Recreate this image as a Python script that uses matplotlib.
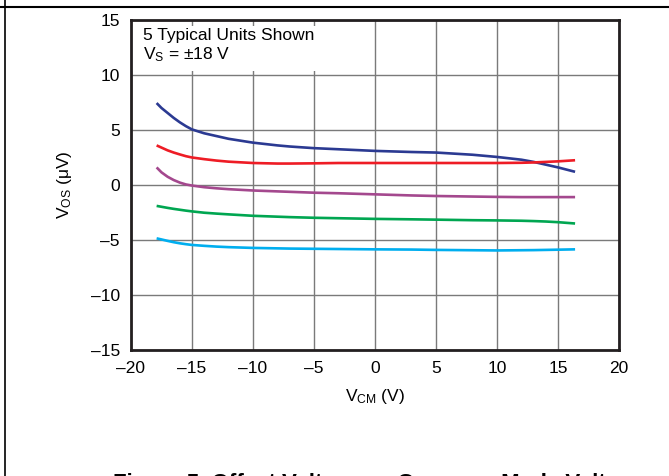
import numpy as np
import matplotlib
matplotlib.use('Agg')
import matplotlib.pyplot as plt
from matplotlib.lines import Line2D
from matplotlib.patches import Rectangle

plt.rcParams['font.family'] = ['Liberation Sans', 'DejaVu Sans']
plt.rcParams['mathtext.default'] = 'regular'

# curve data (V_CM in V, V_OS in uV)
vcm = [-17.9, -17.5, -17, -16.5, -16, -15.5, -15, -14, -13, -12, -10, -8, -7, -5, -3,
       0, 3, 5, 8, 10, 12, 13, 14, 15, 16.4]
blue = [7.45, 7.0, 6.55, 6.1, 5.7, 5.35, 5.05, 4.7, 4.45, 4.2, 3.85, 3.6, 3.5, 3.35, 3.25,
        3.1, 3.0, 2.95, 2.75, 2.55, 2.3, 2.1, 1.85, 1.6, 1.2]
red = [3.6, 3.4, 3.15, 2.95, 2.78, 2.62, 2.5, 2.35, 2.22, 2.12, 2.0, 1.95, 1.95, 1.97, 2.0,
       2.0, 2.0, 2.0, 2.0, 2.0, 2.02, 2.05, 2.1, 2.15, 2.25]
purple = [1.6, 1.15, 0.75, 0.45, 0.22, 0.05, -0.05, -0.2, -0.3, -0.38, -0.5, -0.58, -0.62, -0.7, -0.75,
          -0.85, -0.95, -1.0, -1.05, -1.08, -1.1, -1.1, -1.1, -1.1, -1.1]
green = [-1.9, -1.98, -2.08, -2.17, -2.25, -2.33, -2.4, -2.52, -2.6, -2.67, -2.8, -2.88, -2.92, -2.98, -3.02,
         -3.08, -3.12, -3.15, -3.2, -3.22, -3.25, -3.28, -3.32, -3.38, -3.5]
cyan = [-4.85, -4.95, -5.08, -5.2, -5.3, -5.38, -5.45, -5.53, -5.6, -5.65, -5.72, -5.76, -5.78, -5.8, -5.82,
        -5.85, -5.87, -5.9, -5.93, -5.95, -5.93, -5.92, -5.9, -5.88, -5.85]

series = [blue, red, purple, green, cyan]
colors = ['#2b3a92', '#ee1c25', '#a4488e', '#00a651', '#00aeef']

xticks = [-20, -15, -10, -5, 0, 5, 10, 15, 20]
xticklabels = ['\u201320', '\u201315', '\u201310', '\u20135', '0', '5', '10', '15', '20']
yticks = [-15, -10, -5, 0, 5, 10, 15]
yticklabels = ['\u201315', '\u201310', '\u20135', '0', '5', '10', '15']

fig = plt.figure(figsize=(6.69, 4.76), dpi=100)
ax = fig.add_axes([131/669, 1 - 350/476, (619-131)/669, (350-20)/476])

for ys, c in zip(series, colors):
    ax.plot(vcm, ys, color=c, lw=1.9, solid_capstyle='butt', solid_joinstyle='round', zorder=3)

ax.set_xlim(-20, 20)
ax.set_ylim(-15, 15)
ax.set_xticks(xticks)
ax.set_xticklabels(xticklabels)
ax.set_yticks(yticks)
ax.set_yticklabels(yticklabels)
ax.tick_params(length=0, labelsize=12.5, pad=8)
ax.grid(True, color='#7a7a7a', lw=1.0)
for s in ax.spines.values():
    s.set_linewidth(2.0)
    s.set_color('#231f20')

ax.set_xlabel('V$_{CM}$ (V)', fontsize=12.5, labelpad=8)
ax.set_ylabel('V$_{OS}$ ($\\mu$V)', fontsize=12.5, labelpad=12)

# white box behind the note (hides the grid there)
ax.add_patch(Rectangle((0, 1 - 51/330), 212/488, 45/330, transform=ax.transAxes,
                       facecolor='white', edgecolor='none', zorder=2.5))
ax.text(12/488, 1 - 19.7/330, '5 Typical Units Shown', transform=ax.transAxes, fontsize=12.5,
        va='baseline', ha='left', zorder=4)
ax.text(12/488, 1 - 39.5/330, 'V$_S$ = \u00b118 V', transform=ax.transAxes, fontsize=12.5,
        va='baseline', ha='left', zorder=4)

# page frame lines
fig.add_artist(Line2D([0, 1], [1 - 7/476, 1 - 7/476], transform=fig.transFigure, color='black', lw=1.5))
fig.add_artist(Line2D([5/669, 5/669], [0, 1], transform=fig.transFigure, color='black', lw=1.2))

fig.text(113/669, 1 - 473/476, 'Figure 5. Offset Voltage vs Common-Mode Voltage',
         fontsize=16, fontweight='bold', ha='left', va='top')

fig.savefig('out.png', dpi=100)
